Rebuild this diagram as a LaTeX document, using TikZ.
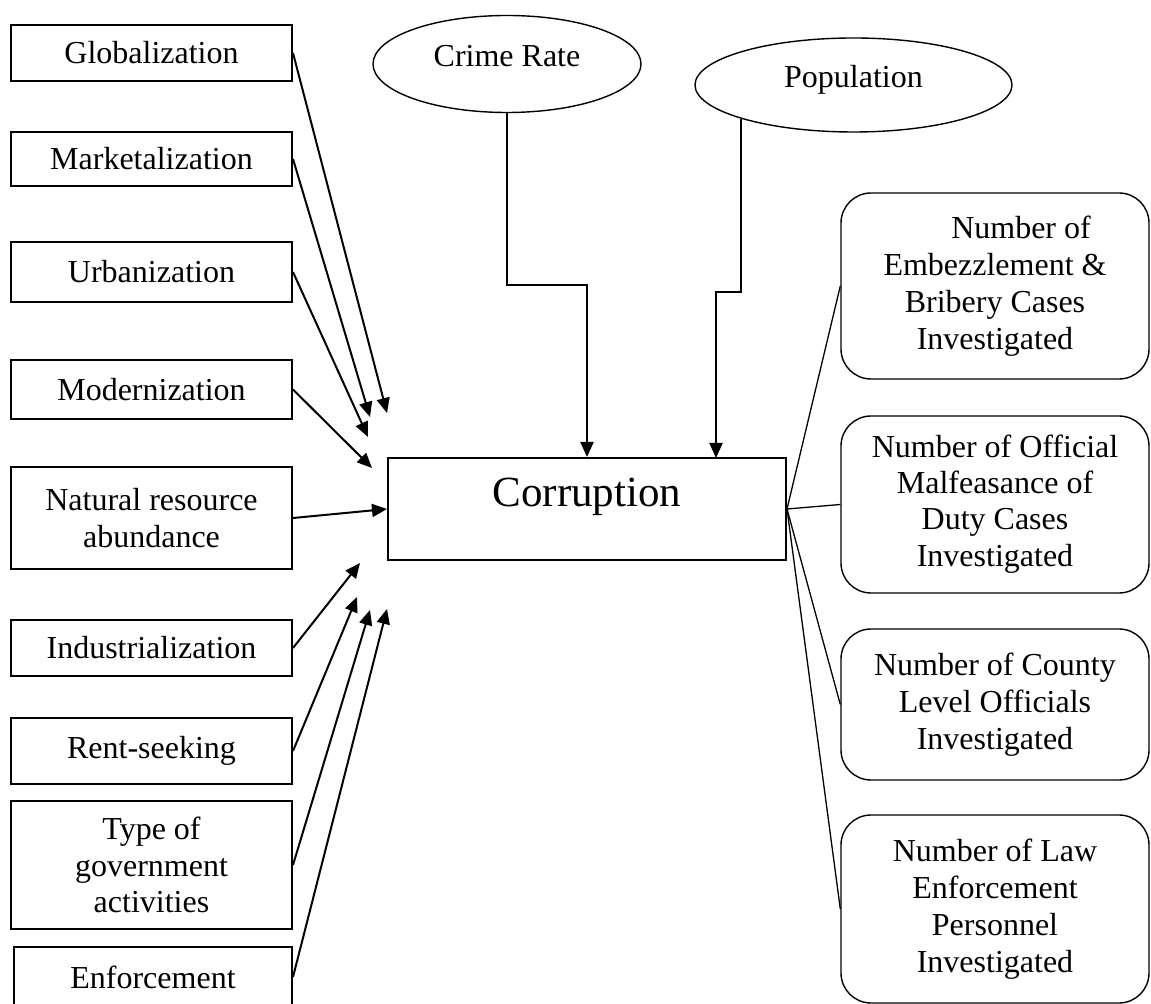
\documentclass[tikz,border=0pt]{standalone}
\usepackage{fontspec}
\setmainfont{Liberation Serif}
\usetikzlibrary{arrows.meta,shapes.geometric}
\begin{document}
\begin{tikzpicture}[x=0.5pt,y=-0.5pt,
  every node/.style={font=\fontsize{16}{18.4}\selectfont, inner sep=0pt, align=center},
  lbox/.style={draw, line width=1pt, minimum width=140.5pt},
  rbox/.style={draw, line width=0.7pt, rounded corners=15pt, minimum width=154pt},
  oval/.style={draw, ellipse, line width=0.7pt},
  arr/.style={line width=1pt, -{Triangle[length=7.5pt,width=6.5pt]}},
  thin/.style={line width=0.65pt}]
\clip (0,0) rectangle (1151,1004);
\fill[white] (0,0) rectangle (1151,1004);

% left boxes
\node[lbox, minimum height=28pt] (glob) at (151.5,53) {Globalization};
\node[lbox, minimum height=27pt] (mark) at (151.5,159) {Marketalization};
\node[lbox, minimum height=30pt] (urb) at (151.5,272) {Urbanization};
\node[lbox, minimum height=29.5pt] (mod) at (151.5,389.5) {Modernization};
\node[lbox, minimum height=51pt] (nat) at (151.5,518) {Natural resource\\abundance};
\node[lbox, minimum height=28pt] (ind) at (151.5,648) {Industrialization};
\node[lbox, minimum height=33pt] (rent) at (151.5,751) {Rent-seeking};
\node[lbox, minimum height=64pt] (type) at (151.5,865) {Type of\\government\\activities};
\node[lbox, minimum height=30pt, minimum width=139pt] (enf) at (153,977) {Enforcement};

% centre box
\node[draw, line width=1pt, minimum width=199pt, minimum height=51pt,
      font=\fontsize{21.5}{24}\selectfont] (corr) at (587,509)
      {\raisebox{1pt}[0pt][0pt]{Corruption}};

% ellipses
\node[oval, minimum width=134pt, minimum height=48.5pt] (cr) at (507,64)
      {\raisebox{-1.5pt}[0pt][0pt]{Crime Rate}};
\node[oval, minimum width=158.5pt, minimum height=47pt] (pop) at (853.5,85)
      {\raisebox{-1.5pt}[0pt][0pt]{Population}};

% right rounded boxes
\node[rbox, minimum height=93pt] (b1) at (995,286)
      {\hspace*{26pt}Number of\\Embezzlement \&\\Bribery Cases\\Investigated};
\node[rbox, minimum height=88.5pt] (b2) at (995,504.5)
      {\raisebox{-2pt}{\begin{tabular}{@{}c@{}}Number of Official\\[-0.3pt]Malfeasance of\\[-0.3pt]Duty Cases\\[-0.3pt]Investigated\end{tabular}}};
\node[rbox, minimum height=75.5pt] (b3) at (995,704.5)
      {Number of County\\Level Officials\\Investigated};
\node[rbox, minimum height=94pt] (b4) at (995,909)
      {Number of Law\\Enforcement\\Personnel\\Investigated};

% arrow end points
\coordinate (t1) at (387,413);
\coordinate (t2) at (370,417);
\coordinate (t3) at (368,437);
\coordinate (t4) at (372,468);
\coordinate (t6) at (360,563);
\coordinate (t7) at (357,597);
\coordinate (t8) at (370,610);
\coordinate (t9) at (387,609);
\coordinate (popin) at (716,458);

\draw[arr] (glob.east) -- (t1);
\draw[arr] (mark.east) -- (t2);
\draw[arr] (urb.east) -- (t3);
\draw[arr] (mod.east) -- (t4);
\draw[arr] (nat.east) -- (corr.west);
\draw[arr] (ind.east) -- (t6);
\draw[arr] (rent.east) -- (t7);
\draw[arr] (type.east) -- (t8);
\draw[arr] (enf.east) -- (t9);

\draw[arr] (cr.south) |- (587,285) -- (corr.north);
\draw[arr] (pop.south west) |- (716,292) -- (popin);

\draw[thin] (corr.east) -- (b1.west);
\draw[thin] (corr.east) -- (b2.west);
\draw[thin] (corr.east) -- (b3.west);
\draw[thin] (corr.east) -- (b4.west);
\end{tikzpicture}
\end{document}
